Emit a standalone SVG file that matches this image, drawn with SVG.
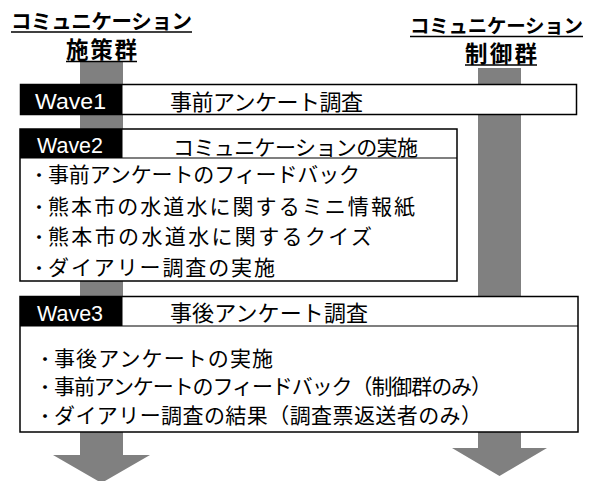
<svg xmlns="http://www.w3.org/2000/svg" width="589" height="481" viewBox="0 0 589 481">
<style>
.bg{fill:#ffffff}
.arrow{fill:#808080;stroke:none}
.box{fill:#ffffff;stroke:#000000;stroke-width:1.5}
.div{stroke:#000000;stroke-width:1.2}
.tag{fill:#000000}
.tagtxt{fill:#ffffff;font-family:"Liberation Sans",Arial,sans-serif}
.jp{fill:#000000;font-family:"Noto Sans CJK JP","Noto Sans CJK SC",sans-serif}
.title{font-weight:bold}
.ul{stroke:#000000;stroke-width:1.6}
.dot{font-size:18px}
</style>
<rect class="bg" x="0" y="0" width="589" height="481"/>
<g id="connectors">
  <polygon id="arrow-left" class="arrow" points="80,62 123,62 123,455 150,455 101.5,483 53,455 80,455"/>
  <polygon id="arrow-right" class="arrow" points="478,68 521,68 521,448 547,448 499.5,476 452,448 478,448"/>
</g>
<g id="title-left">
  <text class="jp title" x="11" y="29" font-size="20.5" textLength="181" lengthAdjust="spacing">コミュニケーション</text>
  <line class="ul" x1="11" y1="32" x2="192" y2="32"/>
  <text class="jp title" x="66" y="58" font-size="22.5" textLength="71" lengthAdjust="spacing">施策群</text>
  <line class="ul" x1="66" y1="61.5" x2="137" y2="61.5"/>
</g>
<g id="title-right">
  <text class="jp title" x="410" y="33" font-size="19.5" textLength="173" lengthAdjust="spacing">コミュニケーション</text>
  <line class="ul" x1="410" y1="36.5" x2="583" y2="36.5"/>
  <text class="jp title" x="465" y="62" font-size="22.5" textLength="72" lengthAdjust="spacing">制御群</text>
  <line class="ul" x1="465" y1="65" x2="537" y2="65"/>
</g>
<g id="wave1">
  <rect class="box" x="20.5" y="84.5" width="556" height="30"/>
  <rect class="tag" x="20" y="84" width="102.5" height="30.5"/>
  <text class="tagtxt" x="35" y="109" font-size="22.5" textLength="71" lengthAdjust="spacingAndGlyphs">Wave1</text>
  <text class="jp" x="170" y="110" font-size="22" textLength="193" lengthAdjust="spacing">事前アンケート調査</text>
</g>
<g id="wave2">
  <rect class="box" x="20" y="129" width="437" height="152"/>
  <line class="div" x1="20" y1="158" x2="457" y2="158"/>
  <rect class="tag" x="20" y="129" width="102.5" height="29"/>
  <text class="tagtxt" x="37" y="153" font-size="21.5" textLength="66" lengthAdjust="spacingAndGlyphs">Wave2</text>
  <text class="jp" x="173" y="155" font-size="21" textLength="245" lengthAdjust="spacing">コミュニケーションの実施</text>
  <text class="jp" x="30" y="182" font-size="21"><tspan class="dot">・</tspan><tspan x="48" textLength="312" lengthAdjust="spacing">事前アンケートのフィードバック</tspan></text>
  <text class="jp" x="30" y="214" font-size="21"><tspan class="dot">・</tspan><tspan x="48" textLength="367" lengthAdjust="spacing">熊本市の水道水に関するミニ情報紙</tspan></text>
  <text class="jp" x="30" y="244" font-size="21"><tspan class="dot">・</tspan><tspan x="48" textLength="324" lengthAdjust="spacing">熊本市の水道水に関するクイズ</tspan></text>
  <text class="jp" x="30" y="275" font-size="21"><tspan class="dot">・</tspan><tspan x="48" textLength="227" lengthAdjust="spacing">ダイアリー調査の実施</tspan></text>
</g>
<g id="wave3">
  <rect class="box" x="20" y="296.5" width="558" height="135.5"/>
  <line class="div" x1="20" y1="326" x2="578" y2="326"/>
  <rect class="tag" x="20" y="296.5" width="102.5" height="29.5"/>
  <text class="tagtxt" x="37" y="321" font-size="22" textLength="66" lengthAdjust="spacingAndGlyphs">Wave3</text>
  <text class="jp" x="170" y="321" font-size="22" textLength="198" lengthAdjust="spacing">事後アンケート調査</text>
  <text class="jp" x="36" y="366" font-size="21"><tspan class="dot">・</tspan><tspan x="54" textLength="219" lengthAdjust="spacing">事後アンケートの実施</tspan></text>
  <text class="jp" x="36" y="394" font-size="21"><tspan class="dot">・</tspan><tspan x="54" textLength="438" lengthAdjust="spacing">事前アンケートのフィードバック（制御群のみ）</tspan></text>
  <text class="jp" x="36" y="423" font-size="21"><tspan class="dot">・</tspan><tspan x="54" textLength="428" lengthAdjust="spacing">ダイアリー調査の結果（調査票返送者のみ）</tspan></text>
</g>
</svg>
